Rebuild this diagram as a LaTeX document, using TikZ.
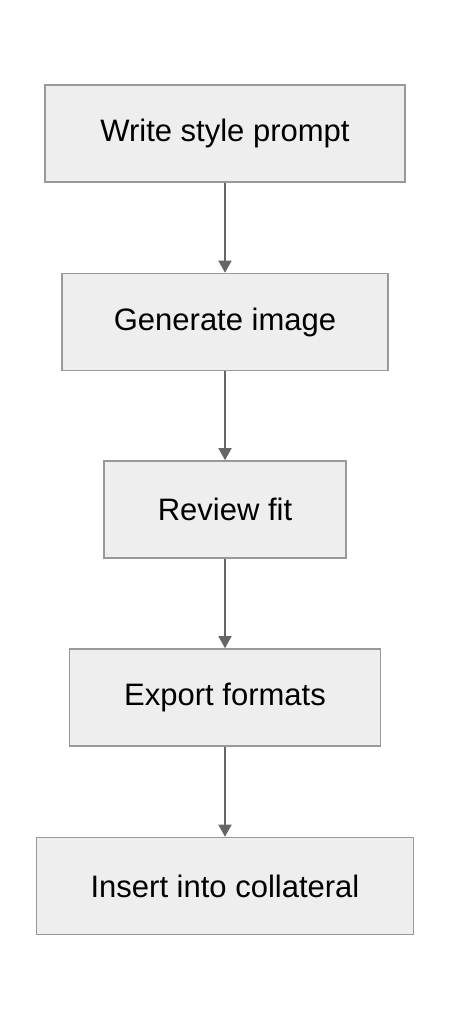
\documentclass[tikz,border=0pt]{standalone}
\usepackage{fontspec}
\setmainfont{Liberation Sans}
\usetikzlibrary{arrows.meta}
\definecolor{boxfill}{HTML}{EEEEEE}
\definecolor{boxline}{HTML}{999999}
\definecolor{arrowcol}{HTML}{666666}
\tikzset{
  stepbox/.style={draw=boxline, fill=boxfill, line width=1.6pt, minimum height=97pt,
    inner sep=0pt, font=\fontsize{31}{36}\selectfont, text=black},
  flow/.style={draw=arrowcol, line width=1.6pt, -{Triangle[width=13pt,length=12pt]}}
}
\begin{document}
\begin{tikzpicture}[x=1pt,y=1pt]
\useasboundingbox (0,0) rectangle (450,-1020);
\fill[white] (0,0) rectangle (450,-1020);
\node[stepbox, minimum width=360pt] (a) at (225,-133.5) {Write style prompt};
\node[stepbox, minimum width=326pt] (b) at (225,-322) {Generate image};
\node[stepbox, minimum width=242pt] (c) at (225,-509.5) {Review fit};
\node[stepbox, minimum width=311pt] (d) at (225,-697.5) {Export formats};
\node[stepbox, minimum width=377pt] (e) at (225,-886) {Insert into collateral};
\draw[flow] (a) -- (b);
\draw[flow] (b) -- (c);
\draw[flow] (c) -- (d);
\draw[flow] (d) -- (e);
\end{tikzpicture}
\end{document}
